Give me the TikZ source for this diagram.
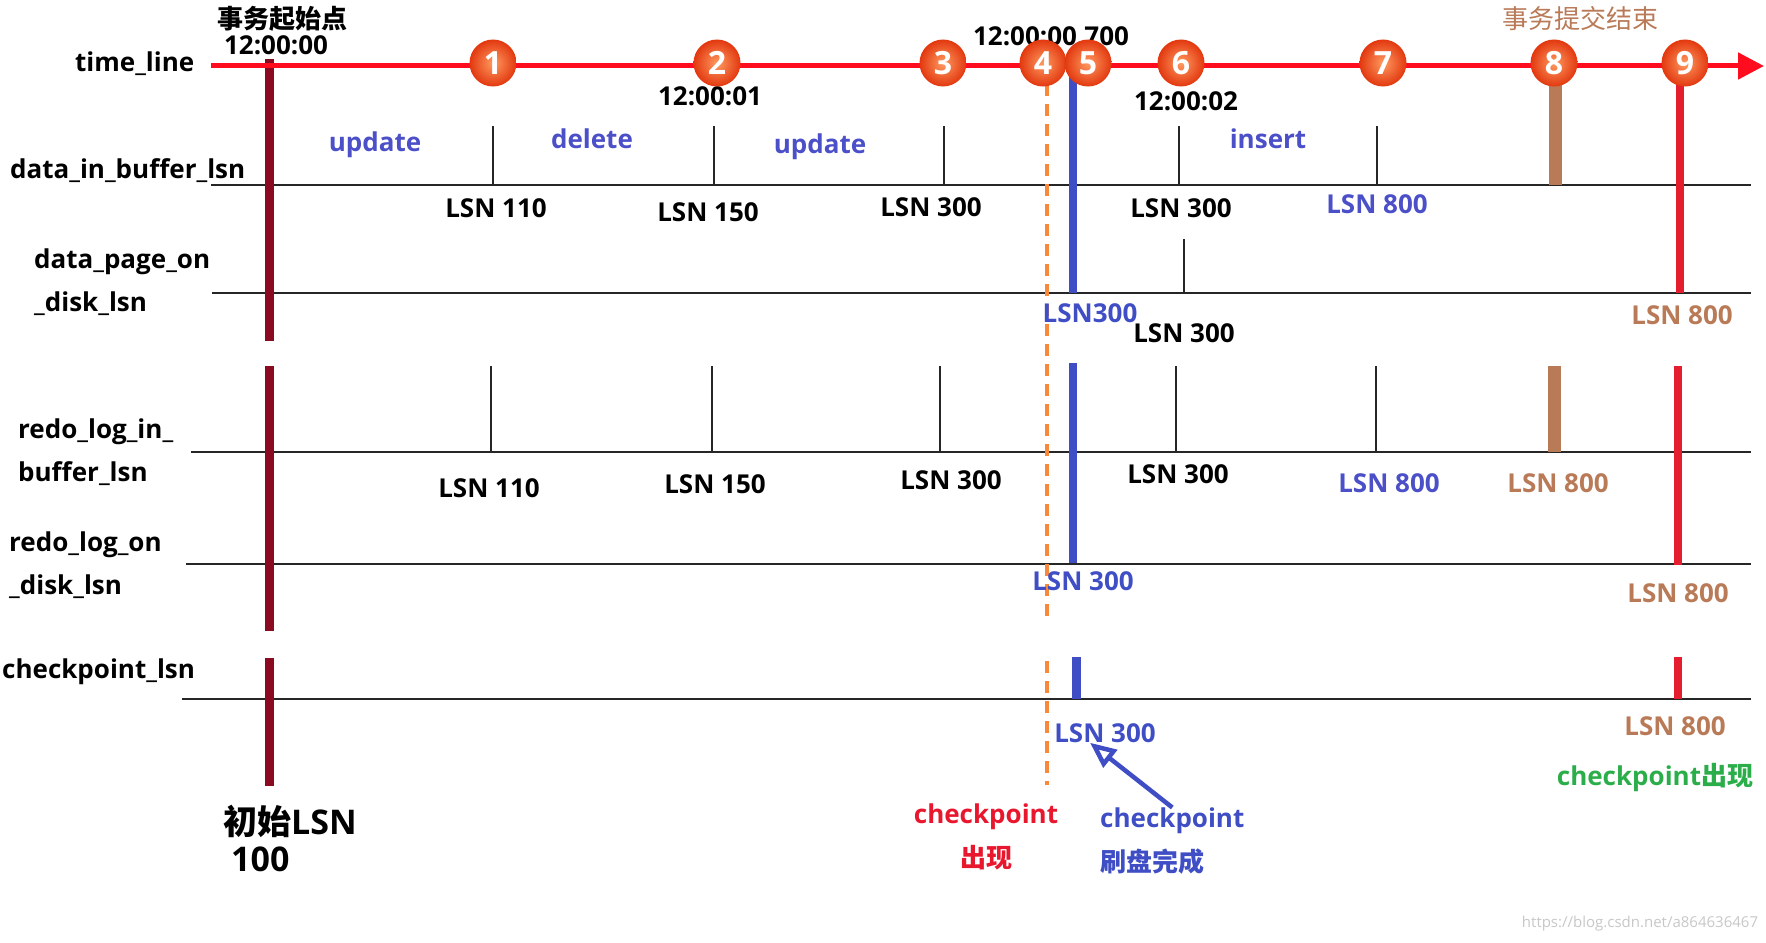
\documentclass[tikz,border=0pt]{standalone}
\usepackage{fontspec}
\setmainfont{Open Sans}
\newfontfamily\cjk{Noto Sans CJK SC}
\usepackage{xcolor}
\usetikzlibrary{arrows.meta}
\definecolor{TimeRed}{HTML}{FF0D1F}
\definecolor{StartBar}{HTML}{8A0A1F}
\definecolor{OpBlue}{HTML}{4B4FC8}
\definecolor{BarBlue}{HTML}{3F4EC4}
\definecolor{Brown}{HTML}{B97A57}
\definecolor{DashOrange}{HTML}{F8883A}
\definecolor{EndRed}{HTML}{E41E2E}
\definecolor{GreenC}{HTML}{2BAE4A}
\definecolor{CkRed}{HTML}{E8172E}
\definecolor{BallIn}{HTML}{FF9A60}
\definecolor{BallOut}{HTML}{E2380F}

\begin{document}
\begin{tikzpicture}[x=1pt,y=-1pt,
  txt/.style={font=\fontsize{26}{30}\selectfont\bfseries,inner sep=0pt},
  rowlbl/.style={anchor=west,align=left,inner sep=0pt,font=\fontsize{26}{43}\selectfont\bfseries},
  op/.style={txt,text=OpBlue},
  numball/.style={circle,shading=radial,inner color=BallIn,outer color=BallOut,minimum size=47pt,inner sep=0pt,text=white,font=\fontsize{32}{32}\selectfont\bfseries},
  rowline/.style={line width=1.6pt,color=black!85},
  tick/.style={line width=1.4pt,color=black!85},
  bar/.style={line width=8pt},
  dashline/.style={line width=4pt,color=DashOrange,dash pattern=on 12pt off 8pt},
  ptr/.style={-{Triangle[open,length=26pt,width=22pt]},line width=4.5pt,color=BarBlue}]
\useasboundingbox (0,0) rectangle (1766,942);

% row labels
\node[rowlbl] (tlL) at (75,64) {time\_line};
\node[rowlbl] (dibL) at (10,171) {data\_in\_buffer\_lsn};
\node[rowlbl] (dpdL) at (34,282) {data\_page\_on\\\_disk\_lsn};
\node[rowlbl] (rlbL) at (18,452) {redo\_log\_in\_\\buffer\_lsn};
\node[rowlbl] (rldL) at (9,565) {redo\_log\_on\\\_disk\_lsn};
\node[rowlbl] (ckL) at (2,672) {checkpoint\_lsn};

% rows
\draw[rowline] (211,185) -- (1751,185);
\draw[rowline] (212,293) -- (1751,293);
\draw[rowline] (191,452) -- (1751,452);
\draw[rowline] (186,564) -- (1751,564);
\draw[rowline] (182,699) -- (1751,699);

% ticks
\foreach \x in {493,714,944,1179,1377}
  \draw[tick] (\x,126) -- (\x,185);
\draw[tick] (1184,239) -- (1184,293);
\foreach \x in {491,712,940,1176,1376}
  \draw[tick] (\x,366) -- (\x,452);

% bars
\foreach \a/\b in {59/341,366/631,658/786}
  \draw[bar,StartBar,line width=9pt] (269,\a) -- (269,\b);
\draw[bar,BarBlue] (1073,73) -- (1073,293);
\draw[bar,BarBlue] (1073,363) -- (1073,563);
\draw[bar,BarBlue,line width=9pt] (1076,657) -- (1076,699);
\draw[bar,Brown,line width=13pt] (1555,84) -- (1555,185);
\draw[bar,Brown,line width=13pt] (1554,366) -- (1554,452);
\draw[bar,EndRed] (1680,73) -- (1680,293);
\draw[bar,EndRed] (1678,366) -- (1678,565);
\draw[bar,EndRed] (1678,657) -- (1678,699);
\draw[dashline] (1047,84) -- (1047,617);
\draw[dashline] (1047,661) -- (1047,785);

% time line
\draw[line width=5pt,TimeRed,-{Triangle[length=26pt,width=26pt]}] (211,66) -- (1764,66);
\node[txt,font=\cjk\fontsize{26}{30}\selectfont\bfseries] (startT) at (282,19) {事务起始点};
\node[txt] (startTime) at (276,45) {12:00:00};
\node[txt] (t700) at (1051,36) {12:00:00.700};
\node[txt] (t01) at (710,96) {12:00:01};
\node[txt] (t02) at (1186,101) {12:00:02};
\node[txt,font=\cjk\fontsize{26}{30}\selectfont,text=Brown] (endT) at (1580,19) {事务提交结束};
\foreach \x/\n in {493/1,717/2,943/3,1043/4,1088/5,1181/6,1383/7,1554/8,1685/9}
  \node[numball] (c\n) at (\x,63) {\n};

% operations
\node[op] (op1) at (375,145) {update};
\node[op] (op2) at (592,139) {delete};
\node[op] (op3) at (820,147) {update};
\node[op] (op4) at (1268,139) {insert};

% lsn of data_in_buffer
\node[txt] (d1) at (496,208) {LSN 110};
\node[txt] (d2) at (708,212) {LSN 150};
\node[txt] (d3) at (931,207) {LSN 300};
\node[txt] (d4) at (1181,208) {LSN 300};
\node[txt,text=OpBlue] (d5) at (1377,204) {LSN 800};

% lsn of data_page_on_disk
\node[txt,text=BarBlue] (p1) at (1090,313) {LSN300};
\node[txt] (p2) at (1184,333) {LSN 300};
\node[txt,text=Brown] (p3) at (1682,315) {LSN 800};

% lsn of redo_log_in_buffer
\node[txt] (r1) at (489,488) {LSN 110};
\node[txt] (r2) at (715,484) {LSN 150};
\node[txt] (r3) at (951,480) {LSN 300};
\node[txt] (r4) at (1178,474) {LSN 300};
\node[txt,text=OpBlue] (r5) at (1389,483) {LSN 800};
\node[txt,text=Brown] (r6) at (1558,483) {LSN 800};

% lsn of redo_log_on_disk
\node[txt,text=BarBlue] (o1) at (1083,581) {LSN 300};
\node[txt,text=Brown] (o2) at (1678,593) {LSN 800};

% checkpoint
\node[txt,text=BarBlue] (ckV) at (1105,733) {LSN 300};
\node[txt,text=Brown] (ckE) at (1675,726) {LSN 800};
\node[txt,text=GreenC] (ckG) at (1655,778) {checkpoint{\cjk 出现}};
\node[txt,text=CkRed,align=center,font=\fontsize{26}{44}\selectfont\bfseries] (cpA) at (986,837) {checkpoint\\{\cjk 出现}};
\node[txt,text=BarBlue,align=left,anchor=west,font=\fontsize{26}{44}\selectfont\bfseries] (cpB) at (1100,841) {checkpoint\\{\cjk 刷盘完成}};
\draw[ptr] (cpB.north) -- ([xshift=-15pt]ckV.south);

% initial lsn
\node[txt,align=left,anchor=west,font=\fontsize{34}{37}\selectfont\bfseries] (init) at (223,838) {{\cjk 初始}LSN\\\hspace*{8pt}100};

\node[inner sep=0pt,font=\fontsize{15}{15}\selectfont,text=black!22] (wm) at (1640,924) {https://blog.csdn.net/a864636467};
\end{tikzpicture}
\end{document}
